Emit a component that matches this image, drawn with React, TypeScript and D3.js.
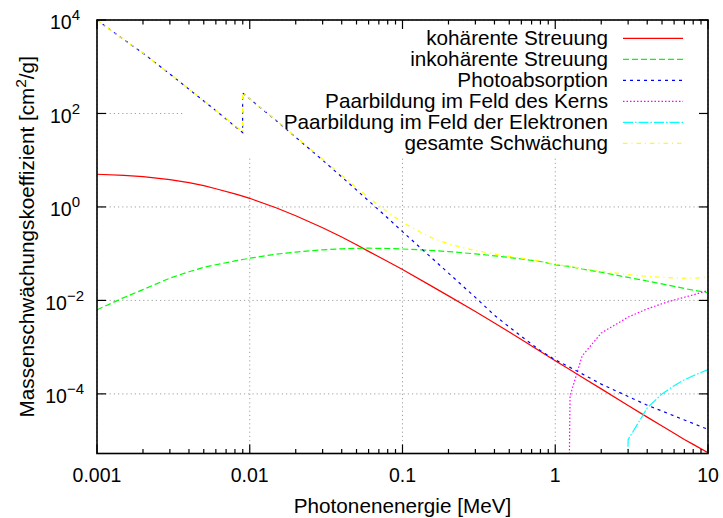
import React, { useEffect, useRef } from "react";
import * as d3 from "d3";

// Photon energies in MeV (the K edge appears twice: below / above)
const energyMeV = [
  0.001, 0.0015, 0.002, 0.003, 0.004, 0.005, 0.006, 0.008, 0.00898, 0.00898,
  0.01, 0.015, 0.02, 0.03, 0.04, 0.05, 0.06, 0.08, 0.1, 0.15, 0.2, 0.3, 0.4,
  0.5, 0.6, 0.8, 1, 1.25, 1.5, 2, 3, 4, 5, 6, 7, 8, 10,
];

// mass attenuation coefficients in cm^2/g
const coherent = [
  5.0, 4.75, 4.45, 3.85, 3.3, 2.85, 2.45, 1.9, 1.7, 1.7, 1.53, 0.95, 0.65,
  0.36, 0.228, 0.155, 0.112, 0.068, 0.046, 0.0215, 0.0125, 0.0058, 0.0033,
  0.0021, 0.00146, 0.00081, 0.00051, 0.000328, 0.000228, 0.000128, 0.0000565,
  0.0000318, 0.0000205, 0.0000143, 0.0000106, 0.0000083, 0.0000055,
];
const incoherent = [
  0.0063, 0.0115, 0.017, 0.03, 0.041, 0.051, 0.058, 0.07, 0.075, 0.075, 0.08,
  0.098, 0.108, 0.121, 0.127, 0.13, 0.131, 0.129, 0.126, 0.118, 0.111, 0.099,
  0.09, 0.083, 0.077, 0.068, 0.0577, 0.053, 0.047, 0.04, 0.031, 0.026, 0.0225,
  0.02, 0.018, 0.0165, 0.0147,
];
const photo = [
  10000, 3800, 1950, 700, 330, 185, 115, 53, 39, 275, 205, 69, 31, 10, 4.4,
  2.3, 1.35, 0.58, 0.296, 0.0896, 0.0384, 0.0116, 0.0048, 0.0027, 0.0017,
  0.00084, 0.000535, 0.000369, 0.000268, 0.000162, 0.0000882, 0.0000573,
  0.0000429, 0.0000338, 0.0000277, 0.0000233, 0.0000174,
];
const total = [
  10005, 3805, 1954.5, 704, 333.3, 187.9, 117.5, 54.97, 40.78, 276.8, 206.6,
  70.05, 31.76, 10.48, 4.755, 2.585, 1.593, 0.777, 0.468, 0.229, 0.162,
  0.1164, 0.0981, 0.0878, 0.0801, 0.0697, 0.0588, 0.0538, 0.0481, 0.0423,
  0.0356, 0.0327, 0.0312, 0.0304, 0.0299, 0.0299, 0.0314,
];

// pair production only above threshold (0 = at threshold)
const pairNucEnergy = [1.022, 1.25, 1.5, 2, 3, 4, 5, 6, 7, 8, 10];
const pairNuc = [
  0, 0.00009, 0.00065, 0.002, 0.0044, 0.0066, 0.0085, 0.0102, 0.0117, 0.0131,
  0.0163,
];
const pairElEnergy = [2.044, 3, 4, 5, 6, 7, 8, 10];
const pairEl = [0, 0.0000105, 0.00005, 0.0001, 0.00015, 0.0002, 0.000245, 0.00033];

const legendLabels = [
  "kohärente Streuung",
  "inkohärente Streuung",
  "Photoabsorption",
  "Paarbildung im Feld des Kerns",
  "Paarbildung im Feld der Elektronen",
  "gesamte Schwächung",
];
const xTickValues = [0.001, 0.01, 0.1, 1, 10];
const xTickLabels = ["0.001", "0.01", "0.1", "1", "10"];
const yTickExponents = [4, 2, 0, -2, -4];

const FONT = "'Liberation Sans', Arial, Helvetica, sans-serif";

export default function App() {
  const svgRef = useRef<SVGSVGElement>(null);

  useEffect(() => {
    if (!svgRef.current) return;
    const width = 723;
    const height = 518;
    const margin = { top: 20, right: 15, bottom: 64.5, left: 97 };
    const x0 = margin.left;
    const x1 = width - margin.right;
    const y0 = margin.top;
    const y1 = height - margin.bottom;

    const svg = d3.select(svgRef.current);
    svg.selectAll("*").remove();

    const xScale = d3.scaleLog().domain([0.001, 10]).range([x0, x1]);
    const yScale = d3.scaleLog().domain([5.3e-6, 1e4]).range([y1, y0]);

    svg.append("rect").attr("width", width).attr("height", height).attr("fill", "#fff");

    const defs = svg.append("defs");
    defs.append("clipPath").attr("id", "plot-clip")
      .append("rect")
      .attr("x", x0).attr("y", y0)
      .attr("width", x1 - x0).attr("height", y1 - y0);

    // grid
    const grid = svg.append("g")
      .attr("stroke", "#a0a0a0")
      .attr("stroke-width", 1)
      .attr("stroke-dasharray", "1.2,3");
    yTickExponents.forEach(e => {
      const y = yScale(Math.pow(10, e));
      grid.append("line").attr("x1", x0).attr("x2", x1).attr("y1", y).attr("y2", y);
    });
    xTickValues.forEach(v => {
      const x = xScale(v);
      grid.append("line").attr("x1", x).attr("x2", x).attr("y1", y0).attr("y2", y1);
    });

    // opaque key box hides the grid behind the legend
    svg.append("rect")
      .attr("x", 184).attr("y", y0 + 1)
      .attr("width", x1 - 184 - 1).attr("height", 157 - y0 - 1)
      .attr("fill", "#fff");

    const line = d3.line<[number, number]>()
      .x(d => xScale(d[0]))
      .y(d => yScale(d[1] > 0 ? d[1] : 1e-30));

    const series = [
      { xs: energyMeV, ys: coherent, color: "#ff0000", dash: null },
      { xs: energyMeV, ys: incoherent, color: "#00ff00", dash: "6,3" },
      { xs: energyMeV, ys: photo, color: "#0000ff", dash: "3,4" },
      { xs: pairNucEnergy, ys: pairNuc, color: "#ff00ff", dash: "1.5,2" },
      { xs: pairElEnergy, ys: pairEl, color: "#00ffff", dash: "10,2,1.5,2" },
      { xs: energyMeV, ys: total, color: "#ffff00", dash: "4.5,4,1,4" },
    ];

    const plot = svg.append("g").attr("clip-path", "url(#plot-clip)");
    series.forEach(s => {
      const pts = s.xs.map((e, i) => [e, s.ys[i]] as [number, number]);
      plot.append("path")
        .datum(pts)
        .attr("fill", "none")
        .attr("stroke", s.color)
        .attr("stroke-width", 1.2)
        .attr("stroke-dasharray", s.dash)
        .attr("d", line);
    });

    // legend
    const legend = svg.append("g").attr("font-family", FONT).attr("font-size", 20.7);
    series.forEach((s, i) => {
      const cy = 38.3 + i * 21;
      legend.append("text")
        .attr("x", 608).attr("y", cy + 7)
        .attr("text-anchor", "end")
        .attr("fill", "#000")
        .text(legendLabels[i]);
      legend.append("line")
        .attr("x1", 623).attr("x2", 683).attr("y1", cy).attr("y2", cy)
        .attr("stroke", s.color)
        .attr("stroke-width", 1.2)
        .attr("stroke-dasharray", s.dash);
    });

    // ticks
    const ticks = svg.append("g").attr("stroke", "#000").attr("stroke-width", 1.2);
    const [d0, d1] = xScale.domain();
    for (let dec = Math.log10(d0); dec < Math.log10(d1) + 0.5; dec++) {
      for (let m = 1; m <= 9; m++) {
        const v = m * Math.pow(10, dec);
        if (v > d1 * 1.0001) break;
        const x = xScale(v);
        const len = m === 1 ? 9 : 4.5;
        ticks.append("line").attr("x1", x).attr("x2", x).attr("y1", y1).attr("y2", y1 - len);
        ticks.append("line").attr("x1", x).attr("x2", x).attr("y1", y0).attr("y2", y0 + len);
      }
    }
    yTickExponents.forEach(e => {
      const y = yScale(Math.pow(10, e));
      ticks.append("line").attr("x1", x0).attr("x2", x0 + 9).attr("y1", y).attr("y2", y);
      ticks.append("line").attr("x1", x1).attr("x2", x1 - 9).attr("y1", y).attr("y2", y);
    });

    // border
    svg.append("rect")
      .attr("x", x0).attr("y", y0)
      .attr("width", x1 - x0).attr("height", y1 - y0)
      .attr("fill", "none")
      .attr("stroke", "#000")
      .attr("stroke-width", 1.6);

    // tick labels
    const labels = svg.append("g").attr("font-family", FONT).attr("fill", "#000");
    xTickValues.forEach((v, i) => {
      labels.append("text")
        .attr("x", xScale(v)).attr("y", 482)
        .attr("font-size", 19.5)
        .attr("text-anchor", "middle")
        .text(xTickLabels[i]);
    });
    yTickExponents.forEach(e => {
      const y = yScale(Math.pow(10, e));
      const t = labels.append("text")
        .attr("x", e < 0 ? 84 : 80)
        .attr("y", y + 9.3)
        .attr("font-size", 19.5)
        .attr("text-anchor", "end");
      t.append("tspan").text("10");
      t.append("tspan")
        .attr("font-size", 15)
        .attr("dy", -9)
        .text(e < 0 ? `\u2212${-e}` : `${e}`);
    });

    // axis titles
    labels.append("text")
      .attr("x", (x0 + x1) / 2).attr("y", 513)
      .attr("font-size", 20.7)
      .attr("text-anchor", "middle")
      .text("Photonenenergie [MeV]");

    const yt = labels.append("text")
      .attr("transform", `translate(34, ${(y0 + y1) / 2}) rotate(-90)`)
      .attr("font-size", 20.7)
      .attr("text-anchor", "middle");
    yt.append("tspan").text("Massenschwächungskoeffizient [cm");
    yt.append("tspan").attr("font-size", 15.5).attr("dy", -8).text("2");
    yt.append("tspan").attr("dy", 8).text("/g]");
  }, []);

  return (
    <div style={{ position: "fixed", left: 0, top: 0, width: 723, height: 518, background: "#fff" }}>
      <svg ref={svgRef} width={723} height={518} style={{ display: "block" }} />
    </div>
  );
}
